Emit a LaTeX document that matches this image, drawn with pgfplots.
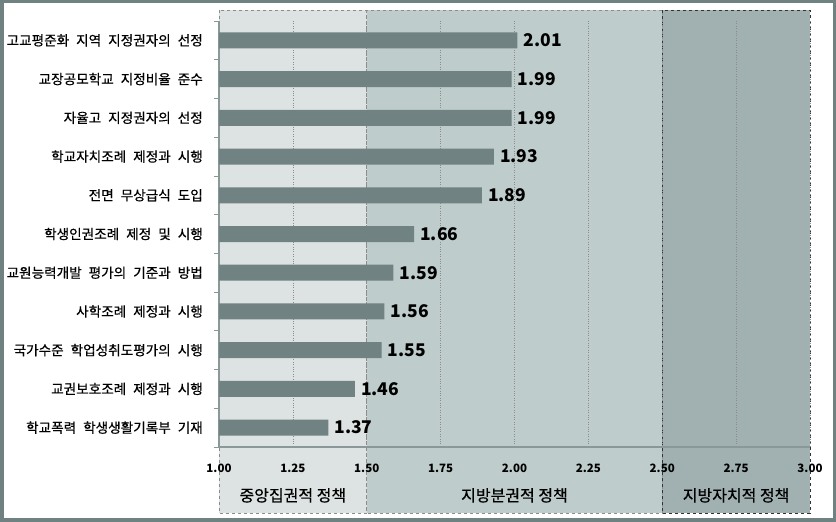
\documentclass[border=0pt]{standalone}
\usepackage{fontspec}
\setmainfont{Noto Sans CJK KR}
\newfontfamily\reg{Noto Sans CJK KR}[FakeBold=0.6]
\usepackage{pgfplots}
\pgfplotsset{compat=1.18}
\usetikzlibrary{backgrounds}
\newcommand\s{\hspace{7pt}}
\definecolor{barcol}{HTML}{708282}
\definecolor{frame}{HTML}{6F8181}
\definecolor{regA}{HTML}{DDE3E2}
\definecolor{regB}{HTML}{BECCCB}
\definecolor{regC}{HTML}{A1B0B0}
\definecolor{axcol}{HTML}{8A9898}
\definecolor{gridcol}{HTML}{8C8C8C}
\begin{document}
\begin{tikzpicture}
\useasboundingbox (0,0) rectangle (836pt,522pt);
\begin{axis}[
  at={(219pt,75pt)}, anchor=south west,
  scale only axis, width=591pt, height=426pt,
  xmin=1, xmax=3, ymin=-0.5, ymax=10.5,
  y dir=reverse,
  xbar, bar width=16pt, bar shift=0pt,
  xtick={1,1.25,...,3},
  ytick={0,...,10},
  minor ytick={-0.5,0.5,...,10.5},
  yticklabels={고교평준화\s{}지역\s{}지정권자의\s{}선정,교장공모학교\s{}지정비율\s{}준수,자율고\s{}지정권자의\s{}선정,학교자치조례\s{}제정과\s{}시행,전면\s{}무상급식\s{}도입,학생인권조례\s{}제정\s{}및\s{}시행,교원능력개발\s{}평가의\s{}기준과\s{}방법,사학조례\s{}제정과\s{}시행,국가수준\s{}학업성취도평가의\s{}시행,교권보호조례\s{}제정과\s{}시행,학교폭력\s{}학생생활기록부\s{}기재},
  major tick length=0pt, minor tick length=5pt, tick align=outside,
  tick style={axcol, line width=0.8pt},
  axis x line*=bottom, axis y line*=left,
  axis line style={-, axcol, line width=1.2pt},
  xmajorgrids, major grid style={gridcol, dotted, line width=0.7pt},
  /pgf/number format/.cd, fixed, fixed zerofill, precision=2, assume math mode=true, /pgfplots/.cd,
  xticklabel style={font=\fontsize{11.5}{13}\selectfont\bfseries, inner sep=0pt, yshift=-17pt},
  yticklabel style={font=\reg\fontsize{13.6}{15}\selectfont, inner sep=0pt, xshift=-16pt, text=black},
  nodes near coords,
  nodes near coords align={horizontal},
  every node near coord/.append style={font=\fontsize{17.5}{19}\selectfont\bfseries, inner sep=0pt, xshift=6pt, anchor=west, text=black},
]
\addplot[fill=barcol, draw=none] coordinates {
(2.01,0) (1.99,1) (1.99,2) (1.93,3) (1.89,4) (1.66,5) (1.59,6) (1.56,7) (1.55,8) (1.46,9) (1.37,10)};
\coordinate (A) at (axis cs:1,-0.784);
\coordinate (B) at (axis cs:1.5,12.204);
\coordinate (C) at (axis cs:2.5,-0.784);
\coordinate (D) at (axis cs:3,12.204);
\coordinate (B2) at (axis cs:1.5,-0.784);
\coordinate (C2) at (axis cs:2.5,12.204);
\coordinate (L1) at (axis cs:1.25,11.75);
\coordinate (L2) at (axis cs:2,11.75);
\coordinate (L3) at (axis cs:2.75,11.75);
\end{axis}
\begin{scope}[on background layer]
\fill[white] (0,0) rectangle (836pt,522pt);
\fill[regA] (A) rectangle (B);
\fill[regB] (B2) rectangle (C2);
\fill[regC] (C) rectangle (D);
\draw[gridcol, dashed, line width=0.7pt] (A) rectangle (B);
\draw[gridcol, dashed, line width=0.7pt] (B2) rectangle (C2);
\draw[black!80, dashed, line width=0.8pt] (C) rectangle (D);
\end{scope}
\draw[line width=3.5pt, frame] (1.75pt,1.75pt) rectangle (834.25pt,520.25pt);
\node[font=\reg\fontsize{16}{18}\selectfont] at (L1) {중앙집권적 정책};
\node[font=\reg\fontsize{16}{18}\selectfont] at (L2) {지방분권적 정책};
\node[font=\reg\fontsize{16}{18}\selectfont] at (L3) {지방자치적 정책};
\end{tikzpicture}
\end{document}
